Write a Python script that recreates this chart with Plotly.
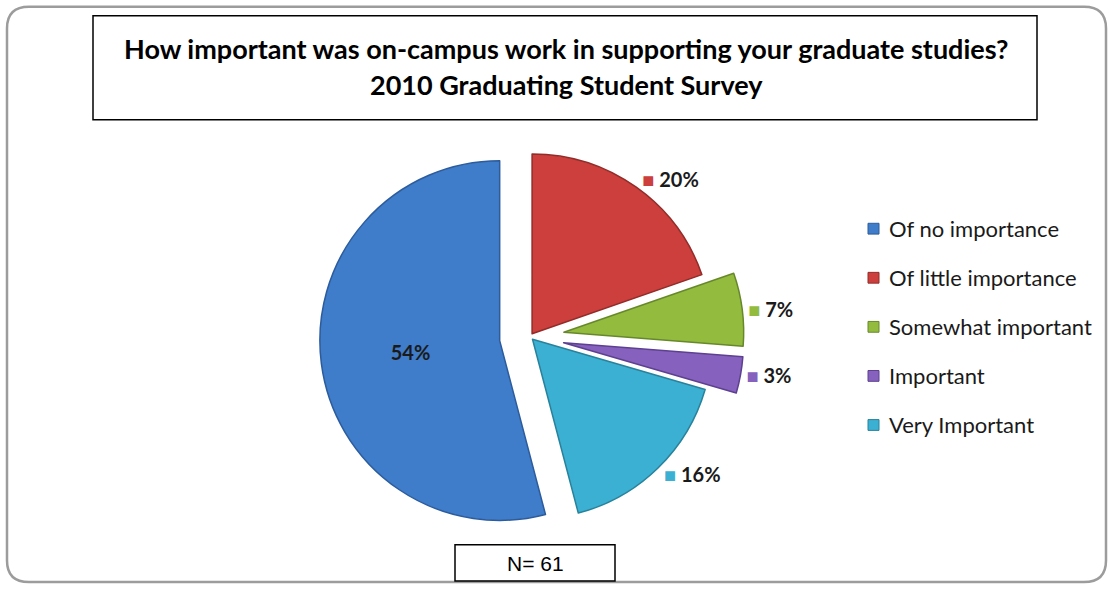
import plotly.graph_objects as go

# Survey responses (N = 61)
categories = ["Of no importance", "Of little importance", "Somewhat important",
              "Important", "Very Important"]
counts = [33, 12, 4, 2, 10]

colors = ["#3F7CC9", "#CC3F3C", "#93BC3E", "#8661BE", "#3BB0D2"]
edge_colors = ["#2C5C9C", "#922C29", "#67882A", "#5D4090", "#28829C"]
pulls = [0.17, 0.02, 0.19, 0.19, 0.02]

total = sum(counts)
pcts = [round(100 * c / total) for c in counts]

# slice labels: the largest slice is labelled inside, others outside with a colour key
slice_text = []
positions = []
for i, p in enumerate(pcts):
    if i == 0:
        slice_text.append(f"{p}%")
        positions.append("inside")
    else:
        slice_text.append(f'<span style="color:{colors[i]}">■</span> {p}%')
        positions.append("outside")

# first slice ends at 12 o'clock, drawn clockwise
rotation = 360 - 360 * counts[0] / total

W, H = 1109, 594

fig = go.Figure(go.Pie(
    labels=categories,
    values=counts,
    sort=False,
    direction="clockwise",
    rotation=rotation,
    pull=pulls,
    text=slice_text,
    textinfo="text",
    textposition=positions,
    insidetextorientation="horizontal",
    textfont=dict(family="Lato", size=20, color="#1A1A1A", weight="bold"),
    marker=dict(colors=colors, line=dict(color=edge_colors, width=1.5)),
    hovertemplate="%{label}: %{percent}<extra></extra>",
    showlegend=False,
    domain=dict(x=[312 / W, 748 / W], y=[1 - 561 / H, 1 - 125 / H]),
))

shapes = []
# outer rounded frame
x0, x1, y0, y1 = 7 / W, 1106 / W, 1 - 593 / H, 1 - 7 / H
rx, ry = 22 / W, 22 / H
frame = (f"M {x0+rx},{y1} L {x1-rx},{y1} Q {x1},{y1} {x1},{y1-ry} "
         f"L {x1},{y0+ry} Q {x1},{y0} {x1-rx},{y0} L {x0+rx},{y0} "
         f"Q {x0},{y0} {x0},{y0+ry} L {x0},{y1-ry} Q {x0},{y1} {x0+rx},{y1} Z")
shapes.append(dict(type="path", path=frame, xref="paper", yref="paper",
                   line=dict(color="#9C9C9C", width=2.5)))
# title box
shapes.append(dict(type="rect", xref="paper", yref="paper",
                   x0=93 / W, x1=1037 / W, y0=1 - 122 / H, y1=1 - 16 / H,
                   line=dict(color="#000000", width=1.5)))
# sample size box
shapes.append(dict(type="rect", xref="paper", yref="paper",
                   x0=455 / W, x1=615 / W, y0=1 - 592 / H, y1=1 - 555 / H,
                   line=dict(color="#000000", width=1.5)))

title_font = dict(family="Lato", size=27, color="#000000", weight="bold")
annotations = [
    dict(text="How important was on-campus work in supporting your graduate studies?",
         x=566 / W, y=1 - 49 / H, xref="paper", yref="paper", showarrow=False,
         xanchor="center", yanchor="middle", font=title_font),
    dict(text="2010 Graduating Student Survey",
         x=566 / W, y=1 - 86 / H, xref="paper", yref="paper", showarrow=False,
         xanchor="center", yanchor="middle", font=title_font),
    dict(text=f"N= {total}",
         x=535 / W, y=1 - 574 / H, xref="paper", yref="paper", showarrow=False,
         xanchor="center", yanchor="middle",
         font=dict(family="Liberation Sans", size=21, color="#000000")),
]

# legend: colour key squares with category names, one row every 50 px
legend_top, legend_step = 233, 50
for i, (name, c, ec) in enumerate(zip(categories, colors, edge_colors)):
    yc = legend_top + legend_step * i
    shapes.append(dict(type="rect", xref="paper", yref="paper",
                       x0=868 / W, x1=879 / W,
                       y0=1 - (yc + 5.5) / H, y1=1 - (yc - 5.5) / H,
                       fillcolor=c, line=dict(color=ec, width=1)))
    annotations.append(dict(text=name, x=887 / W, y=1 - yc / H,
                            xref="paper", yref="paper", showarrow=False,
                            xanchor="left", yanchor="middle",
                            font=dict(family="Lato", size=22, color="#1A1A1A")))

fig.update_layout(
    width=W, height=H,
    margin=dict(l=0, r=0, t=0, b=0),
    paper_bgcolor="#FFFFFF",
    plot_bgcolor="#FFFFFF",
    shapes=shapes,
    annotations=annotations,
)

fig.write_html("out.html")
